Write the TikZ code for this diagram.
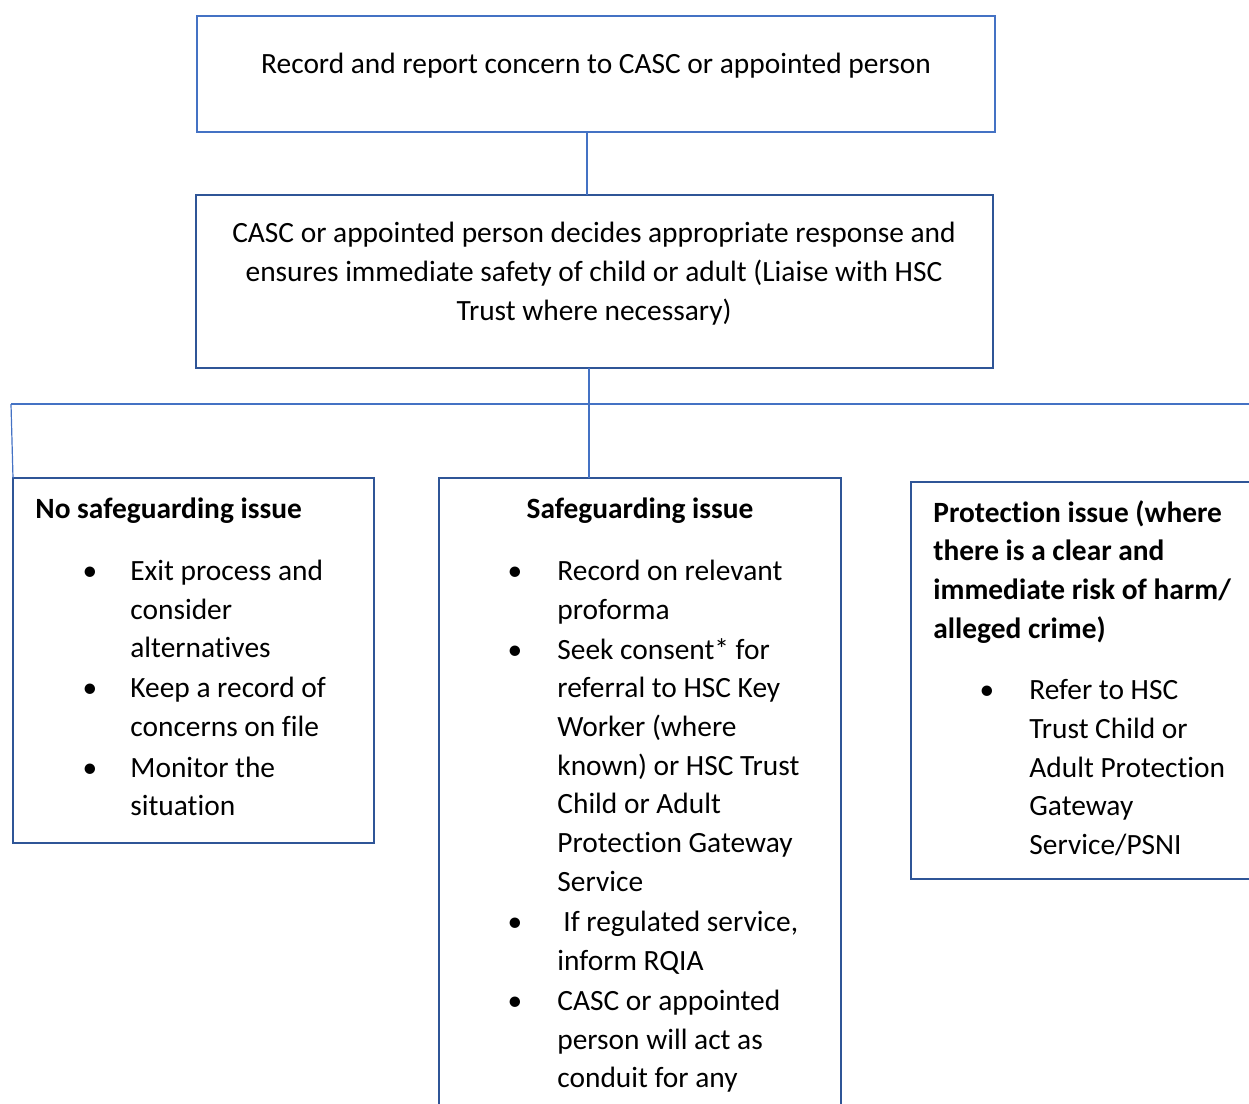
\documentclass[tikz,border=0pt]{standalone}
\usepackage{fontspec}
\setmainfont[Ligatures={NoCommon}]{Carlito}
\usetikzlibrary{fit}
\definecolor{lb}{HTML}{4472C4}
\definecolor{db}{HTML}{2F5597}
\begin{document}
\begin{tikzpicture}[x=0.5pt,y=-0.5pt,
  box/.style={draw=db,line width=1.2pt,inner sep=0pt},
  lbox/.style={draw=lb,line width=1.2pt,inner sep=0pt},
  conn/.style={draw=lb,line width=0.6pt},
  txt/.style={anchor=base west,inner sep=0pt,font=\fontsize{14.7}{18}\selectfont},
  ctxt/.style={anchor=base,inner sep=0pt,font=\fontsize{14.7}{18}\selectfont},
  btxt/.style={anchor=base west,inner sep=0pt,font=\fontsize{14.7}{18}\selectfont\bfseries},
  bul/.style={anchor=base,inner sep=0pt,font=\fontsize{14.7}{18}\selectfont}]
\useasboundingbox (0,0) rectangle (1249,1104);
\clip (0,0) rectangle (1249,1104);
% boxes
\node (b1) [lbox,fit={(197,16)(995,132)}] {};
\node (b2) [box,fit={(196,195)(993,368)}] {};
\node (bl) [box,fit={(13,478)(374,843)}] {};
\node (bm) [box,fit={(439,478)(841,1130)}] {};
\node (br) [box,fit={(911,482)(1270,879)}] {};
% connectors
\coordinate (c1) at (587,132);
\coordinate (c2) at (587,195);
\coordinate (jl) at (11,404);
\coordinate (jr) at (1260,404);
\coordinate (s2) at (589,368);
\coordinate (sm) at (589,478);
\coordinate (sl) at (13,478);
\draw[conn] (c1) -- (c2);
\draw[conn] (s2) -- (sm);
\draw[conn] (jl) -- (jr);
\draw[conn] (jl) -- (sl);
% top texts
\node (t1) [ctxt] at (596,73) {Record and report concern to CASC or appointed person};
\node (t2a) [ctxt] at (594,242) {CASC or appointed person decides appropriate response and};
\node (t2b) [ctxt] at (594,281) {ensures immediate safety of child or adult (Liaise with HSC};
\node (t2c) [ctxt] at (594,320) {Trust where necessary)};
% left box
\node (lh) [btxt] at (35,518) {No safeguarding issue};
\node (lb1) [bul] at (90,580) {•};
\node (lb2) [bul] at (90,697) {•};
\node (lb3) [bul] at (90,777) {•};
\node (l1) [txt] at (130,580) {Exit process and};
\node (l2) [txt] at (130,619) {consider};
\node (l3) [txt] at (130,657) {alternatives};
\node (l4) [txt] at (130,697) {Keep a record of};
\node (l5) [txt] at (130,736) {concerns on file};
\node (l6) [txt] at (130,777) {Monitor the};
\node (l7) [txt] at (130,815) {situation};
% middle box
\node (mh) [ctxt,font=\fontsize{14.7}{18}\selectfont\bfseries] at (640,518) {Safeguarding issue};
\node (mb1) [bul] at (515,580) {•};
\node (mb2) [bul] at (515,659) {•};
\node (mb3) [bul] at (515,931) {•};
\node (mb4) [bul] at (515,1010) {•};
\node (m1) [txt] at (557,580) {Record on relevant};
\node (m2) [txt] at (557,619) {proforma};
\node (m3) [txt] at (557,659) {Seek consent* for};
\node (m4) [txt] at (557,697) {referral to HSC Key};
\node (m5) [txt] at (557,736) {Worker (where};
\node (m6) [txt] at (557,775) {known) or HSC Trust};
\node (m7) [txt] at (557,813) {Child or Adult};
\node (m8) [txt] at (557,852) {Protection Gateway};
\node (m9) [txt] at (557,891) {Service};
\node (m10) [txt] at (563,931) {If regulated service,};
\node (m11) [txt] at (557,970) {inform RQIA};
\node (m12) [txt] at (557,1010) {CASC or appointed};
\node (m13) [txt] at (557,1049) {person will act as};
\node (m14) [txt] at (557,1087) {conduit for any};
% right box
\node (rh1) [btxt] at (933,522) {Protection issue (where};
\node (rh2) [btxt] at (933,560) {there is a clear and};
\node (rh3) [btxt] at (933,599) {immediate risk of harm/};
\node (rh4) [btxt] at (933,638) {alleged crime)};
\node (rb1) [bul] at (987,699) {•};
\node (r1) [txt] at (1029,699) {Refer to HSC};
\node (r2) [txt] at (1029,738) {Trust Child or};
\node (r3) [txt] at (1029,777) {Adult Protection};
\node (r4) [txt] at (1029,815) {Gateway};
\node (r5) [txt] at (1029,854) {Service/PSNI};
\end{tikzpicture}
\end{document}
